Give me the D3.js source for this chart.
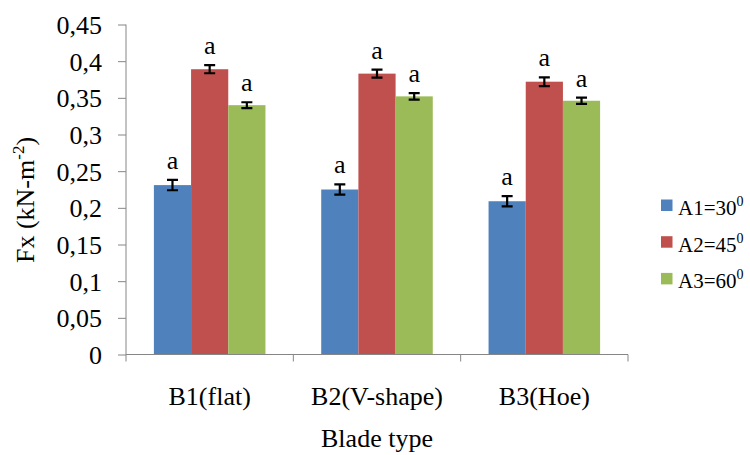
<!DOCTYPE html>
<html>
<head>
<meta charset="utf-8">
<script src="https://cdn.jsdelivr.net/npm/d3@7/dist/d3.min.js"></script>
<style>
  html, body { margin: 0; padding: 0; background: #fff; }
  svg { display: block; font-family: "Liberation Serif", "Times New Roman", serif; }
</style>
</head>
<body>
<svg id="chart" width="750" height="455"></svg>
<script>
// Blade types on the x axis
const categories = ["B1(flat)", "B2(V-shape)", "B3(Hoe)"];
// Series (blade angle) names and colours
const seriesNames = ["A1=30", "A2=45", "A3=60"];
const seriesColors = ["#4F81BD", "#C0504D", "#9BBB59"];
// Fx means (kN-m-2) per blade type
const valuesA1 = [0.231, 0.225, 0.209];
const valuesA2 = [0.389, 0.383, 0.372];
const valuesA3 = [0.340, 0.352, 0.346];
// Standard errors
const errorsA1 = [0.007, 0.007, 0.007];
const errorsA2 = [0.0055, 0.0055, 0.006];
const errorsA3 = [0.004, 0.0045, 0.0043];
// Significance letters
const lettersA1 = ["a", "a", "a"];
const lettersA2 = ["a", "a", "a"];
const lettersA3 = ["a", "a", "a"];
// Y ticks
const yTicks = [0, 0.05, 0.1, 0.15, 0.2, 0.25, 0.3, 0.35, 0.4, 0.45];

const series = [
  { name: seriesNames[0], color: seriesColors[0], values: valuesA1, errors: errorsA1, letters: lettersA1 },
  { name: seriesNames[1], color: seriesColors[1], values: valuesA2, errors: errorsA2, letters: lettersA2 },
  { name: seriesNames[2], color: seriesColors[2], values: valuesA3, errors: errorsA3, letters: lettersA3 }
];

const svg = d3.select("#chart");
const plotLeft = 126, plotRight = 628, plotTop = 24.5, plotBottom = 354.5;
const axisColor = "#868686";

const x = d3.scaleBand().domain(categories).range([plotLeft, plotRight]).padding(0);
const y = d3.scaleLinear().domain([0, 0.45]).range([plotBottom, plotTop]);

const barW = x.bandwidth() / 4.5;
const sub = d3.scaleBand().domain(seriesNames)
  .range([barW * 0.75, barW * 3.75]).padding(0);

const fmt = d => String(+d.toFixed(2)).replace(".", ",");

// Y axis
const yAxis = svg.append("g")
  .attr("transform", `translate(${plotLeft},0)`)
  .call(d3.axisLeft(y).tickValues(yTicks).tickFormat(fmt).tickSize(8).tickPadding(16).tickSizeOuter(0));
yAxis.select(".domain").attr("stroke", axisColor).attr("d", `M0,${plotTop}V${plotBottom + 7}`);
yAxis.selectAll(".tick line").attr("stroke", axisColor);
yAxis.selectAll(".tick text").attr("font-size", 26).attr("fill", "#000")
  .attr("font-family", "Liberation Serif").attr("dy", "0.34em");

// Bars
const groups = svg.append("g").selectAll("g")
  .data(series).join("g");

groups.selectAll("rect")
  .data(s => s.values.map((v, i) => ({ s, v, cat: categories[i] })))
  .join("rect")
  .attr("x", d => x(d.cat) + sub(d.s.name))
  .attr("y", d => y(d.v))
  .attr("width", sub.bandwidth())
  .attr("height", d => y(0) - y(d.v))
  .attr("fill", d => d.s.color);

// X axis line with category boundary ticks
const xAxis = svg.append("g")
  .attr("transform", `translate(0,${plotBottom})`)
  .call(d3.axisBottom(x).tickSize(0).tickPadding(0).tickSizeOuter(0));
xAxis.select(".domain").attr("stroke", axisColor).attr("d", `M${plotLeft},0H${plotRight}`);
xAxis.selectAll(".tick text")
  .attr("font-size", 26).attr("fill", "#000").attr("font-family", "Liberation Serif")
  .attr("dy", null).attr("y", 50.5);
const bounds = categories.map(c => x(c) + x.bandwidth());
xAxis.append("g").selectAll("line")
  .data(bounds).join("line")
  .attr("x1", d => d).attr("x2", d => d)
  .attr("y1", 0).attr("y2", 7)
  .attr("stroke", axisColor);

// Error bars
const errG = svg.append("g").attr("stroke", "#000").attr("stroke-width", 2.2);
const errData = series.flatMap(s => s.values.map((v, i) => ({
  s, v, e: s.errors[i], letter: s.letters[i],
  cx: x(categories[i]) + sub(s.name) + sub.bandwidth() / 2
})));
errG.selectAll("path").data(errData).join("path")
  .attr("fill", "none")
  .attr("d", d => {
    const y1 = y(d.v + d.e), y2 = y(d.v - d.e), h = 5.5;
    return `M${d.cx},${y1}V${y2}M${d.cx - h},${y1}H${d.cx + h}M${d.cx - h},${y2}H${d.cx + h}`;
  });

// Significance letters
svg.append("g").selectAll("text").data(errData).join("text")
  .attr("x", d => d.cx)
  .attr("y", d => y(d.v + d.e) - 11)
  .attr("text-anchor", "middle")
  .attr("font-size", 26)
  .text(d => d.letter);

// Axis titles
svg.append("text")
  .attr("transform", "translate(34,200) rotate(-90)")
  .attr("text-anchor", "middle")
  .attr("font-size", 26)
  .call(t => {
    t.append("tspan").text("Fx (kN-m");
    t.append("tspan").attr("font-size", 17).attr("dy", -10).text("-2");
    t.append("tspan").attr("dy", 10).text(")");
  });

svg.append("text")
  .attr("x", (plotLeft + plotRight) / 2)
  .attr("y", 447)
  .attr("text-anchor", "middle")
  .attr("font-size", 26)
  .text("Blade type");

// Legend
const legend = svg.append("g").selectAll("g")
  .data(series).join("g")
  .attr("transform", (d, i) => `translate(661,${205 + i * 36.7})`);
legend.append("rect")
  .attr("x", 0).attr("y", -5.5).attr("width", 11.5).attr("height", 11.5)
  .attr("fill", d => d.color);
legend.append("text")
  .attr("x", 17).attr("y", 10)
  .attr("font-size", 21)
  .call(t => {
    t.append("tspan").text(d => d.name);
    t.append("tspan").attr("font-size", 14).attr("dy", -9).text("0");
  });
</script>
</body>
</html>
